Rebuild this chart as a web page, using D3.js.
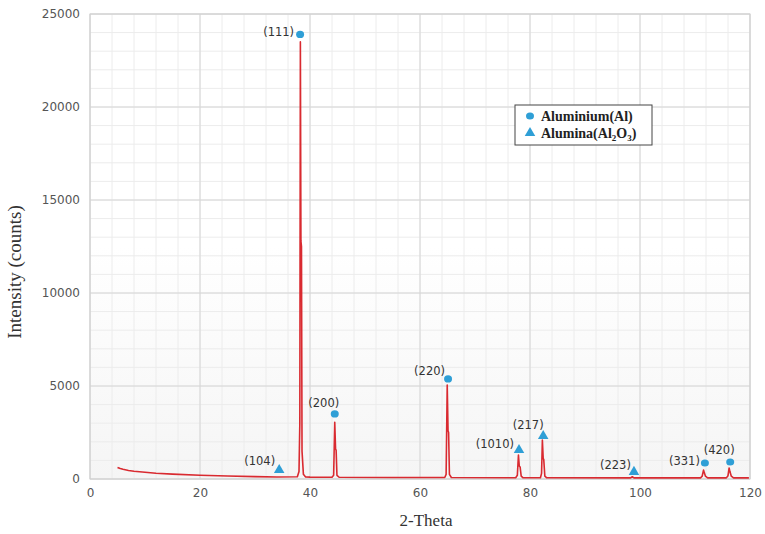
<!DOCTYPE html>
<html>
<head>
<meta charset="utf-8">
<script src="https://cdn.jsdelivr.net/npm/d3@7"></script>
<style>
  body { margin: 0; background: #fff; }
  svg { display: block; }
</style>
</head>
<body>
<div class="canvas"></div>
<script>
// XRD profile (2-theta, counts)
const theta = [5, 5.5, 6, 7, 8, 10, 12, 15, 20, 25, 30, 34,
  37.7, 38.0, 38.15, 38.25, 38.35, 38.45, 38.55, 38.8, 39.2,
  40, 44, 44.3, 44.5, 44.65, 44.75, 44.9, 45.3,
  55, 64.5, 64.75, 64.95, 65.1, 65.2, 65.35, 65.7,
  77.4, 77.7, 77.9, 78.05, 78.2, 78.4, 78.7,
  81.9, 82.1, 82.25, 82.4, 82.5, 82.7, 83,
  98.3, 98.6, 98.9,
  111, 111.3, 111.55, 111.7, 111.9, 112.3,
  115.7, 116, 116.2, 116.35, 116.6, 117, 119.8];
const counts = [620, 560, 520, 460, 420, 360, 310, 260, 200, 160, 130, 110,
  120, 400, 3000, 23500, 12800, 12500, 1500, 250, 110,
  100, 95, 200, 3050, 1600, 1550, 200, 95,
  80, 80, 250, 5050, 2600, 2500, 250, 80,
  70, 200, 1290, 700, 650, 150, 70,
  70, 300, 2100, 1100, 1050, 150, 70,
  60, 120, 60,
  60, 150, 480, 330, 150, 60,
  60, 180, 590, 400, 150, 60, 60];

// indexed peaks
const peakLabels = ['(111)', '(104)', '(200)', '(220)', '(1010)', '(217)', '(223)', '(331)', '(420)'];
const peakTheta = [38.2, 34.4, 44.5, 65.1, 78.0, 82.4, 98.9, 111.8, 116.4];
const markerCounts = [23900, 480, 3500, 5380, 1560, 2310, 380, 860, 915];
const peakPhase = ['Al', 'Al2O3', 'Al', 'Al', 'Al2O3', 'Al2O3', 'Al2O3', 'Al', 'Al'];

const xTicks = [0, 20, 40, 60, 80, 100, 120];
const yTicks = [0, 5000, 10000, 15000, 20000, 25000];

const width = 765;
const height = 534;
const margin = {top: 14, right: 15, bottom: 55, left: 90};
const graphWidth = width - margin.left - margin.right;
const graphHeight = height - margin.top - margin.bottom;

// label placement relative to marker (px)
const labelPos = [
  {dx: -6, dy: 2, anchor: 'end'},
  {dx: -4, dy: -5, anchor: 'end'},
  {dx: -11, dy: -7, anchor: 'middle'},
  {dx: -3, dy: -4, anchor: 'end'},
  {dx: -5, dy: -2, anchor: 'end'},
  {dx: -15, dy: -7, anchor: 'middle'},
  {dx: -3, dy: -3, anchor: 'end'},
  {dx: -5, dy: 2, anchor: 'end'},
  {dx: -11, dy: -8, anchor: 'middle'}
];

const svg = d3.select('.canvas')
  .append('svg')
  .attr('width', width)
  .attr('height', height);

const defs = svg.append('defs');
const grad = defs.append('linearGradient')
  .attr('id', 'bg')
  .attr('x1', 0).attr('y1', 0).attr('x2', 0).attr('y2', 1);
grad.append('stop').attr('offset', '0%').attr('stop-color', '#ffffff');
grad.append('stop').attr('offset', '50%').attr('stop-color', '#ffffff');
grad.append('stop').attr('offset', '100%').attr('stop-color', '#f5f5f5');

const graph = svg.append('g')
  .attr('transform', `translate(${margin.left}, ${margin.top})`);

const x = d3.scaleLinear().domain([0, 120]).range([0, graphWidth]);
const y = d3.scaleLinear().domain([0, 25000]).range([graphHeight, 0]);

graph.append('rect')
  .attr('width', graphWidth)
  .attr('height', graphHeight)
  .attr('fill', 'url(#bg)');

// minor grid
graph.append('g').selectAll('line')
  .data(d3.range(0, 121, 4))
  .enter().append('line')
  .attr('x1', d => x(d)).attr('x2', d => x(d))
  .attr('y1', 0).attr('y2', graphHeight)
  .attr('stroke', '#ececec');
graph.append('g').selectAll('line')
  .data(d3.range(0, 25001, 1000))
  .enter().append('line')
  .attr('y1', d => y(d)).attr('y2', d => y(d))
  .attr('x1', 0).attr('x2', graphWidth)
  .attr('stroke', '#ececec');

// major grid
graph.append('g').selectAll('line')
  .data(xTicks)
  .enter().append('line')
  .attr('x1', d => x(d)).attr('x2', d => x(d))
  .attr('y1', 0).attr('y2', graphHeight)
  .attr('stroke', '#d6d6d6');
graph.append('g').selectAll('line')
  .data(yTicks)
  .enter().append('line')
  .attr('y1', d => y(d)).attr('y2', d => y(d))
  .attr('x1', 0).attr('x2', graphWidth)
  .attr('stroke', '#d6d6d6');

graph.append('rect')
  .attr('width', graphWidth)
  .attr('height', graphHeight)
  .attr('fill', 'none')
  .attr('stroke', '#cfcfcf');

const gXAxis = graph.append('g')
  .attr('transform', `translate(0, ${graphHeight})`);
const gYAxis = graph.append('g');

gXAxis.call(d3.axisBottom(x).tickValues(xTicks).tickSize(0).tickPadding(9));
gYAxis.call(d3.axisLeft(y).tickValues(yTicks).tickSize(0).tickPadding(10).tickFormat(d => d));
svg.selectAll('.domain').remove();
svg.selectAll('.tick text')
  .style('font-family', 'DejaVu Sans')
  .style('font-size', '12px')
  .attr('fill', '#555');

// profile
const pts = theta.map((t, i) => [t, counts[i]]);
graph.append('path')
  .datum(pts)
  .attr('fill', 'none')
  .attr('stroke', '#d92a30')
  .attr('stroke-width', 1.6)
  .attr('stroke-linejoin', 'round')
  .attr('d', d3.line().x(d => x(d[0])).y(d => y(d[1])));

// markers
const blue = '#2f9fd6';
const tri = d3.symbol().type(d3.symbolTriangle).size(48);
peakTheta.forEach((t, i) => {
  const px = x(t), py = y(markerCounts[i]);
  if (peakPhase[i] === 'Al') {
    graph.append('ellipse')
      .attr('cx', px).attr('cy', py)
      .attr('rx', 4).attr('ry', 3.6)
      .attr('fill', blue);
  } else {
    graph.append('path')
      .attr('d', tri)
      .attr('transform', `translate(${px}, ${py})`)
      .attr('fill', blue);
  }
  const lp = labelPos[i];
  graph.append('text')
    .attr('x', px + lp.dx)
    .attr('y', py + lp.dy)
    .attr('text-anchor', lp.anchor)
    .style('font-family', 'DejaVu Sans')
    .style('font-size', '11.5px')
    .attr('fill', '#333')
    .text(peakLabels[i]);
});

// axis titles
svg.append('text')
  .attr('transform', 'rotate(-90)')
  .attr('x', -272)
  .attr('y', 21)
  .attr('text-anchor', 'middle')
  .style('font-family', 'Liberation Serif')
  .style('font-size', '19px')
  .attr('fill', '#333')
  .text('Intensity (counts)');

svg.append('text')
  .attr('x', 426)
  .attr('y', 526)
  .attr('text-anchor', 'middle')
  .style('font-family', 'Liberation Serif')
  .style('font-size', '17px')
  .attr('fill', '#333')
  .text('2-Theta');

// legend
const legend = svg.append('g').attr('transform', 'translate(515, 105)');
legend.append('rect')
  .attr('width', 137).attr('height', 40)
  .attr('fill', '#fff')
  .attr('stroke', '#444')
  .attr('stroke-width', 1);
legend.append('ellipse')
  .attr('cx', 15).attr('cy', 11)
  .attr('rx', 4).attr('ry', 3.6)
  .attr('fill', blue);
legend.append('path')
  .attr('d', tri)
  .attr('transform', 'translate(15, 28)')
  .attr('fill', blue);
const legText = legend.append('g')
  .style('font-family', 'Liberation Serif')
  .style('font-weight', 'bold')
  .style('font-size', '14px')
  .attr('fill', '#222');
legText.append('text').attr('x', 26).attr('y', 16).text('Aluminium(Al)');
const t2 = legText.append('text').attr('x', 26).attr('y', 33);
t2.append('tspan').text('Alumina(Al');
t2.append('tspan').attr('font-size', '9px').attr('dy', 3).text('2');
t2.append('tspan').attr('dy', -3).text('O');
t2.append('tspan').attr('font-size', '9px').attr('dy', 3).text('3');
t2.append('tspan').attr('dy', -3).text(')');
</script>
</body>
</html>
